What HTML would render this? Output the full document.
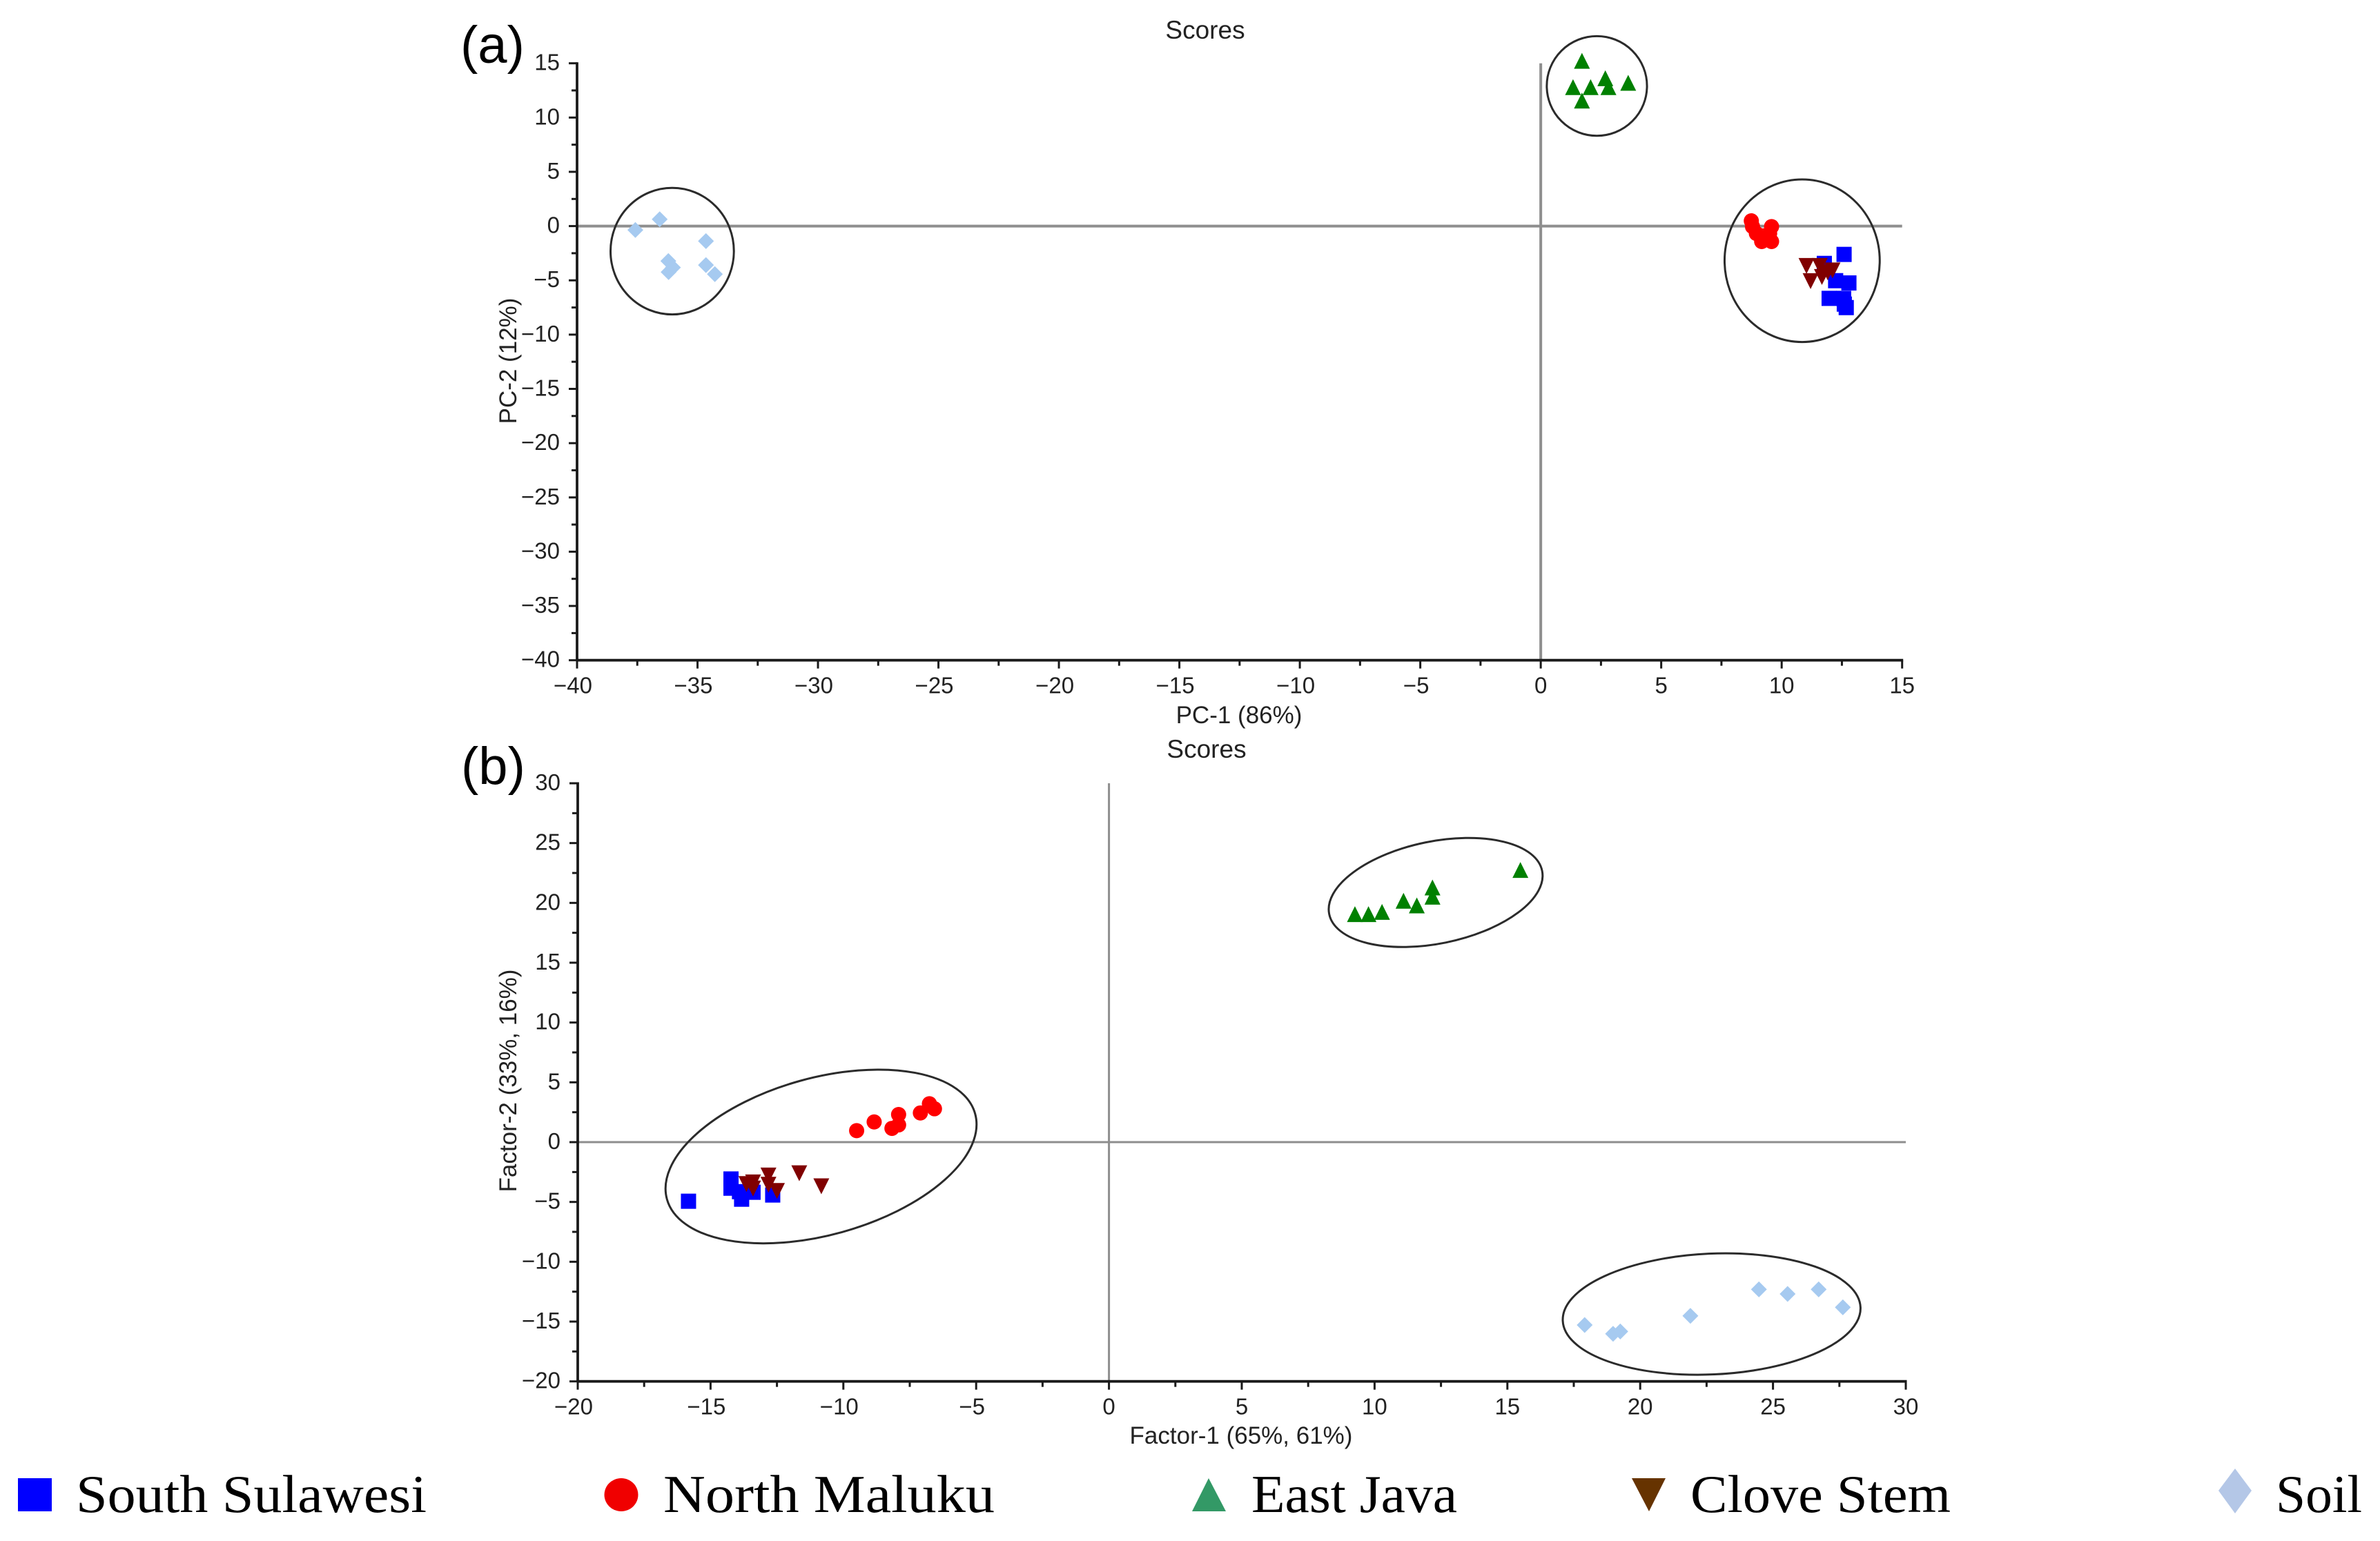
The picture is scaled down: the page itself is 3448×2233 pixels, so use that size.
<!DOCTYPE html>
<html lang="en">
<head>
<meta charset="utf-8">
<title>PCA and Factor Scores</title>
<style>
html,body{margin:0;padding:0;background:#fff;}
svg{display:block;}
text{font-family:"Liberation Sans",Arial,sans-serif;fill:#222;}
.legend-text{font-family:"Liberation Serif","Times New Roman",serif;font-size:77px;fill:#000;}
</style>
</head>
<body>
<svg id="figure" xmlns="http://www.w3.org/2000/svg" width="3448" height="2233" viewBox="0 0 3448 2233">
  <rect x="0" y="0" width="3448" height="2233" fill="#fff"/>
  <text x="667" y="91" font-size="76" style="fill:#000">(a)</text>
  <text x="668" y="1136" font-size="76" style="fill:#000">(b)</text>
  <text x="1746" y="56" font-size="37" text-anchor="middle">Scores</text>
  <text x="1748" y="1098" font-size="37" text-anchor="middle">Scores</text>
  <text x="1795" y="1048" font-size="35" text-anchor="middle">PC-1 (86%)</text>
  <text x="1798" y="2092" font-size="35" text-anchor="middle">Factor-1 (65%, 61%)</text>
  <text transform="translate(748 523) rotate(-90)" font-size="35" text-anchor="middle">PC-2 (12%)</text>
  <text transform="translate(748 1566) rotate(-90)" font-size="35" text-anchor="middle">Factor-2 (33%, 16%)</text>

  <g id="panel-a"></g>
  <g id="panel-b"></g>

  <g>
    <g>
      <rect x="26" y="2142" width="49" height="48" fill="#0000ff"/>
      <text class="legend-text" x="110" y="2191" textLength="508" lengthAdjust="spacingAndGlyphs">South Sulawesi</text>
    </g>
    <g>
      <ellipse cx="900" cy="2166" rx="24.5" ry="24" fill="#f00000"/>
      <text class="legend-text" x="961" y="2191" textLength="480" lengthAdjust="spacingAndGlyphs">North Maluku</text>
    </g>
    <g>
      <polygon points="1727,2190 1751,2142 1776,2190" fill="#339966"/>
      <text class="legend-text" x="1813" y="2191" textLength="298" lengthAdjust="spacingAndGlyphs">East Java</text>
    </g>
    <g>
      <polygon points="2364,2142 2413,2142 2389,2190" fill="#663300"/>
      <text class="legend-text" x="2449" y="2191" textLength="377" lengthAdjust="spacingAndGlyphs">Clove Stem</text>
    </g>
    <g>
      <polygon points="3238,2128 3262,2160 3238,2193 3214,2160" fill="#b4c7e7"/>
      <text class="legend-text" x="3297" y="2191" textLength="125" lengthAdjust="spacingAndGlyphs">Soil</text>
    </g>
  </g>
</svg>

<script>
// ---------- Panel (a) data ----------
const aXTicks = [-40,-35,-30,-25,-20,-15,-10,-5,0,5,10,15];
const aYTicks = [15,10,5,0,-5,-10,-15,-20,-25,-30,-35,-40];
const aSouthSulawesiX = [12.59,11.77,12.24,12.79,11.97,12.57,12.60,12.68];
const aSouthSulawesiY = [-2.61,-3.44,-5.03,-5.24,-6.66,-6.66,-7.19,-7.51];
const aNorthMalukuX = [8.74,8.79,8.95,9.17,9.58,9.50,9.58,9.23];
const aNorthMalukuY = [0.48,-0.05,-0.68,-1.42,-0.05,-0.68,-1.42,-0.90];
const aEastJavaX = [1.71,1.34,2.07,2.68,2.81,3.63,1.71];
const aEastJavaY = [15.23,12.80,12.80,13.62,12.80,13.20,11.56];
const aCloveStemX = [11.03,11.58,11.20,11.67,12.11,11.91];
const aCloveStemY = [-3.67,-3.67,-5.07,-4.69,-4.09,-4.26];
const aSoilX = [-36.57,-37.58,-34.65,-36.21,-34.65,-36.02,-36.20,-34.28];
const aSoilY = [0.63,-0.36,-1.38,-3.22,-3.59,-3.82,-4.24,-4.43];
// cluster outlines: centre x, centre y, radius x, radius y (data units), tilt in degrees
const aClusterSoil = [-36.05,-2.31,2.56,5.83,0];
const aClusterEastJava = [2.33,12.91,2.08,4.59,0];
const aClusterMixed = [10.85,-3.19,3.22,7.49,0];

// ---------- Panel (b) data ----------
const bXTicks = [-20,-15,-10,-5,0,5,10,15,20,25,30];
const bYTicks = [30,25,20,15,10,5,0,-5,-10,-15,-20];
const bSouthSulawesiX = [-15.83,-14.23,-14.23,-13.83,-13.91,-13.40,-12.66];
const bSouthSulawesiY = [-4.94,-3.08,-3.85,-4.77,-4.14,-4.19,-4.42];
const bNorthMalukuX = [-9.50,-8.84,-8.17,-7.92,-7.92,-7.10,-6.76,-6.57];
const bNorthMalukuY = [0.96,1.69,1.15,2.31,1.44,2.44,3.21,2.79];
const bEastJavaX = [9.26,9.77,10.28,11.09,11.59,12.18,12.18,15.49];
const bEastJavaY = [19.06,19.06,19.25,20.18,19.79,21.29,20.52,22.75];
const bCloveStemX = [-11.66,-10.83,-12.82,-12.82,-12.50,-13.65,-13.40,-13.40];
const bCloveStemY = [-2.60,-3.69,-2.79,-3.56,-4.08,-3.50,-3.37,-3.88];
const bSoilX = [17.91,18.98,19.25,21.89,24.47,25.55,26.72,27.63];
const bSoilY = [-15.29,-16.02,-15.83,-14.52,-12.31,-12.69,-12.31,-13.81];
const bClusterSoil = [22.69,-14.37,5.61,5.05,-2.6];
const bClusterEastJava = [12.30,20.87,4.09,4.27,-11.5];
const bClusterMixed = [-10.84,-1.20,6.02,6.56,-15.5];

// ---------- Drawing ----------
const NS = 'http://www.w3.org/2000/svg';
const AXIS_COLOR = '#1a1a1a';
const ZERO_COLOR = '#8e8e8e';

function scale(d0, d1, p0, p1) {
  return function (v) { return p0 + (v - d0) * (p1 - p0) / (d1 - d0); };
}
function line(parent, x1, y1, x2, y2, color, width, name) {
  const el = document.createElementNS(NS, 'line');
  el.setAttribute('x1', x1);
  el.setAttribute('y1', y1);
  el.setAttribute('x2', x2);
  el.setAttribute('y2', y2);
  el.setAttribute('stroke', color);
  el.setAttribute('stroke-width', width);
  
  
  parent.appendChild(el);
}
function label(parent, x, y, str, anchor, name) {
  const el = document.createElementNS(NS, 'text');
  el.setAttribute('x', x);
  el.setAttribute('y', y);
  el.setAttribute('font-size', '33');
  el.setAttribute('text-anchor', anchor);
  el.textContent = str;
  
  
  parent.appendChild(el);
}
function tickText(v) { return v < 0 ? '\u2212' + Math.abs(v) : String(v); }

function drawMarker(parent, shape, color, px, py, name) {
  const r = 11.5;
  let el;
  if (shape === 'circle') {
    el = document.createElementNS(NS, 'circle');
    el.setAttribute('cx', px);
    el.setAttribute('cy', py);
    el.setAttribute('r', 11);
  } else if (shape === 'square') {
    el = document.createElementNS(NS, 'rect');
    el.setAttribute('x', px - 11);
    el.setAttribute('y', py - 11);
    el.setAttribute('width', 22);
    el.setAttribute('height', 22);
  } else {
    el = document.createElementNS(NS, 'polygon');
    let pts;
    if (shape === 'up') pts = [[px, py - r], [px + r, py + r], [px - r, py + r]];
    else if (shape === 'down') pts = [[px - r, py - r], [px + r, py - r], [px, py + r]];
    else pts = [[px, py - r], [px + r, py], [px, py + r], [px - r, py]];
    el.setAttribute('points', pts.map(function (p) { return p.join(','); }).join(' '));
  }
  el.setAttribute('fill', color);
  
  
  parent.appendChild(el);
}
function drawSeries(parent, xs, ys, sx, sy, shape, color, name) {
  const g = document.createElementNS(NS, 'g');
  
  
  parent.appendChild(g);
  xs.forEach(function (v, i) {
    drawMarker(g, shape, color, sx(v), sy(ys[i]), name + '-point');
  });
}
function drawCluster(parent, c, sx, sy, name) {
  const x0 = sx(0), y0 = sy(0);
  const cx = sx(c[0]), cy = sy(c[1]);
  const el = document.createElementNS(NS, 'ellipse');
  el.setAttribute('cx', cx);
  el.setAttribute('cy', cy);
  el.setAttribute('rx', Math.abs(sx(c[2]) - x0));
  el.setAttribute('ry', Math.abs(sy(c[3]) - y0));
  el.setAttribute('transform', 'rotate(' + c[4] + ' ' + cx + ' ' + cy + ')');
  el.setAttribute('fill', 'none');
  el.setAttribute('stroke', '#2b2b2b');
  el.setAttribute('stroke-width', '3');
  
  
  parent.appendChild(el);
}
function drawAxes(parent, xTicks, yTicks, sx, sy, zeroWidth) {
  const xMin = xTicks[0], xMax = xTicks[xTicks.length - 1];
  const yMax = yTicks[0], yMin = yTicks[yTicks.length - 1];
  const minorStep = 2.5;
  // zero reference lines
  line(parent, sx(xMin), sy(0), sx(xMax), sy(0), ZERO_COLOR, zeroWidth, 'zero-line-horizontal');
  line(parent, sx(0), sy(yMax), sx(0), sy(yMin), ZERO_COLOR, zeroWidth, 'zero-line-vertical');
  // axis spines
  line(parent, sx(xMin), sy(yMin), sx(xMax) + 1.5, sy(yMin), AXIS_COLOR, 3.8, 'x-axis-line');
  line(parent, sx(xMin), sy(yMax) - 1.5, sx(xMin), sy(yMin), AXIS_COLOR, 3.8, 'y-axis-line');
  xTicks.forEach(function (v) {
    const px = sx(v), py = sy(yMin);
    line(parent, px, py, px, py + 12, AXIS_COLOR, 3, 'x-axis-tick');
    label(parent, v < 0 ? px - 6 : px, py + 48, tickText(v), 'middle', 'x-axis-tick-label');
    if (v < xMax) {
      line(parent, sx(v + minorStep), py, sx(v + minorStep), py + 8, AXIS_COLOR, 3, 'x-axis-minor-tick');
    }
  });
  yTicks.forEach(function (v) {
    const px = sx(xMin), py = sy(v);
    line(parent, px - 12, py, px, py, AXIS_COLOR, 3, 'y-axis-tick');
    label(parent, px - 25, py + 10, tickText(v), 'end', 'y-axis-tick-label');
    if (v > yMin) {
      line(parent, px - 8, sy(v - minorStep), px, sy(v - minorStep), AXIS_COLOR, 3, 'y-axis-minor-tick');
    }
  });
}

// Panel (a)
const ax = scale(-40, 15, 836, 2755.7);
const ay = scale(15, -40, 91.7, 956.7);
const panelA = document.getElementById('panel-a');
drawAxes(panelA, aXTicks, aYTicks, ax, ay, 4);
drawSeries(panelA, aSouthSulawesiX, aSouthSulawesiY, ax, ay, 'square', '#0000ff', 'south-sulawesi');
drawSeries(panelA, aNorthMalukuX, aNorthMalukuY, ax, ay, 'circle', '#ff0000', 'north-maluku');
drawSeries(panelA, aEastJavaX, aEastJavaY, ax, ay, 'up', '#008000', 'east-java');
drawSeries(panelA, aCloveStemX, aCloveStemY, ax, ay, 'down', '#800000', 'clove-stem');
drawSeries(panelA, aSoilX, aSoilY, ax, ay, 'diamond', '#a6caf0', 'soil');
drawCluster(panelA, aClusterSoil, ax, ay, 'soil-cluster-ellipse');
drawCluster(panelA, aClusterEastJava, ax, ay, 'east-java-cluster-ellipse');
drawCluster(panelA, aClusterMixed, ax, ay, 'mixed-cluster-ellipse');

// Panel (b)
const bx = scale(-20, 30, 837, 2761);
const by = scale(30, -20, 1135, 2001.7);
const panelB = document.getElementById('panel-b');
drawAxes(panelB, bXTicks, bYTicks, bx, by, 3);
drawSeries(panelB, bSouthSulawesiX, bSouthSulawesiY, bx, by, 'square', '#0000ff', 'south-sulawesi');
drawSeries(panelB, bNorthMalukuX, bNorthMalukuY, bx, by, 'circle', '#ff0000', 'north-maluku');
drawSeries(panelB, bEastJavaX, bEastJavaY, bx, by, 'up', '#008000', 'east-java');
drawSeries(panelB, bCloveStemX, bCloveStemY, bx, by, 'down', '#800000', 'clove-stem');
drawSeries(panelB, bSoilX, bSoilY, bx, by, 'diamond', '#a6caf0', 'soil');
drawCluster(panelB, bClusterSoil, bx, by, 'soil-cluster-ellipse');
drawCluster(panelB, bClusterEastJava, bx, by, 'east-java-cluster-ellipse');
drawCluster(panelB, bClusterMixed, bx, by, 'mixed-cluster-ellipse');
</script>
</body>
</html>
